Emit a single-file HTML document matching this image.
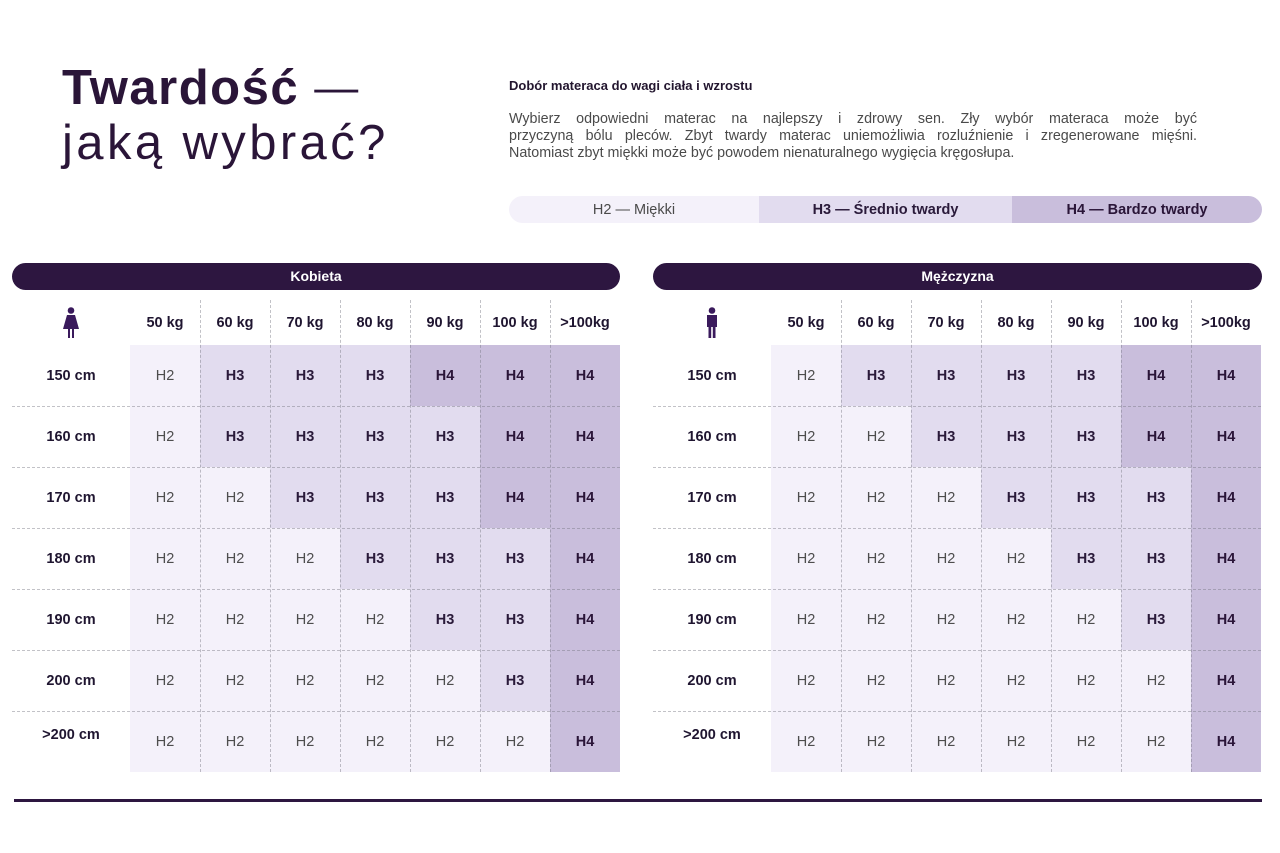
<!DOCTYPE html>
<html><head><meta charset="utf-8">
<style>
*{margin:0;padding:0;box-sizing:border-box}
body{width:1280px;height:853px;background:#fff;position:relative;overflow:hidden;font-family:"Liberation Sans",sans-serif;color:#2a1a3a}
.abs{position:absolute}
.t1{left:62px;top:58px;font-size:49px;font-weight:bold;color:#2a1538;letter-spacing:1.5px;white-space:nowrap;line-height:60px}
.t1 span{font-weight:normal;letter-spacing:0;font-size:44px;position:relative;top:-2px}
.t2{left:62px;top:113px;font-size:49px;color:#2a1538;letter-spacing:3.4px;white-space:nowrap;line-height:60px}
.sub{left:509px;top:78px;font-size:13px;font-weight:bold;color:#22152e;white-space:nowrap}
.para{left:509px;top:111px;width:688px;font-size:14.3px;line-height:17px;color:#4a4a4a}
.para div{text-align:justify;text-align-last:justify;white-space:nowrap}
.legend{left:509px;top:196px;width:753px;height:27px;border-radius:14px;overflow:hidden;display:flex}
.legend div{height:27px;line-height:28px;text-align:center;font-size:14.5px}
.bar{height:27px;border-radius:14px;background:#2d1640;color:#fff;font-weight:bold;font-size:14px;text-align:center;line-height:27px}
.grid{display:grid;grid-template-columns:118px repeat(7,70px);grid-template-rows:45px repeat(7,61px)}
.grid div{display:flex;align-items:center;justify-content:center;font-size:14.5px}
.hd{font-weight:bold;color:#1f1530;padding-top:1px}
.rl{font-weight:bold;color:#1f1530}
.h2{background:#f4f1fa;color:#4d4d4d}
.h3{background:#e2dcef;color:#2a1a3a;font-weight:bold}
.h4{background:#c9bedc;color:#2a1538;font-weight:bold}
.vl{width:0;border-left:1px dashed rgba(120,120,130,0.45)}
.hl{height:0;border-top:1px dashed rgba(120,120,130,0.45)}
</style></head><body>

<div class="abs t1">Twardość <span>—</span></div>
<div class="abs t2">jaką wybrać?</div>

<div class="abs sub">Dobór materaca do wagi ciała i wzrostu</div>
<div class="abs para">
<div>Wybierz odpowiedni materac na najlepszy i zdrowy sen. Zły wybór materaca może być</div>
<div>przyczyną bólu pleców. Zbyt twardy materac uniemożliwia rozluźnienie i zregenerowane mięśni.</div>
<div style="text-align:left;text-align-last:left">Natomiast zbyt miękki może być powodem nienaturalnego wygięcia kręgosłupa.</div>
</div>

<div class="abs legend">
<div style="width:250px;background:#f4f1fa;color:#4a4a4a">H2 — Miękki</div>
<div style="width:253px;background:#e2dcef;color:#2a1a3a;font-weight:bold">H3 — Średnio twardy</div>
<div style="width:250px;background:#c9bedc;color:#2a1538;font-weight:bold">H4 — Bardzo twardy</div>
</div>

<div class="abs bar" style="left:12px;top:263px;width:608px">Kobieta</div>
<div class="abs bar" style="left:653px;top:263px;width:609px">Mężczyzna</div>

<!-- Left table -->
<div class="abs grid" style="left:12px;top:300px">
<div><svg width="18" height="32" viewBox="0 0 18 32"><circle cx="9" cy="3.5" r="3.3" fill="#3a1a5c"/><path d="M5 8 H13 L17 22 H12 V31 H10 V22 H8 V31 H6 V22 H1 Z" fill="#3a1a5c"/></svg></div>
<div class="hd">50 kg</div><div class="hd">60 kg</div><div class="hd">70 kg</div><div class="hd">80 kg</div><div class="hd">90 kg</div><div class="hd">100 kg</div><div class="hd">&gt;100kg</div>
<div class="rl">150 cm</div><div class="h2">H2</div><div class="h3">H3</div><div class="h3">H3</div><div class="h3">H3</div><div class="h4">H4</div><div class="h4">H4</div><div class="h4">H4</div>
<div class="rl">160 cm</div><div class="h2">H2</div><div class="h3">H3</div><div class="h3">H3</div><div class="h3">H3</div><div class="h3">H3</div><div class="h4">H4</div><div class="h4">H4</div>
<div class="rl">170 cm</div><div class="h2">H2</div><div class="h2">H2</div><div class="h3">H3</div><div class="h3">H3</div><div class="h3">H3</div><div class="h4">H4</div><div class="h4">H4</div>
<div class="rl">180 cm</div><div class="h2">H2</div><div class="h2">H2</div><div class="h2">H2</div><div class="h3">H3</div><div class="h3">H3</div><div class="h3">H3</div><div class="h4">H4</div>
<div class="rl">190 cm</div><div class="h2">H2</div><div class="h2">H2</div><div class="h2">H2</div><div class="h2">H2</div><div class="h3">H3</div><div class="h3">H3</div><div class="h4">H4</div>
<div class="rl">200 cm</div><div class="h2">H2</div><div class="h2">H2</div><div class="h2">H2</div><div class="h2">H2</div><div class="h2">H2</div><div class="h3">H3</div><div class="h4">H4</div>
<div class="rl" style="padding-bottom:14px">&gt;200 cm</div><div class="h2">H2</div><div class="h2">H2</div><div class="h2">H2</div><div class="h2">H2</div><div class="h2">H2</div><div class="h2">H2</div><div class="h4">H4</div>
</div>

<!-- Right table -->
<div class="abs grid" style="left:653px;top:300px">
<div><svg width="14" height="32" viewBox="0 0 14 32"><circle cx="7" cy="3.5" r="3.3" fill="#3a1a5c"/><path d="M2 8 H12 V20 H10.5 V31 H7.8 V20 H6.2 V31 H3.5 V20 H2 Z" fill="#3a1a5c"/></svg></div>
<div class="hd">50 kg</div><div class="hd">60 kg</div><div class="hd">70 kg</div><div class="hd">80 kg</div><div class="hd">90 kg</div><div class="hd">100 kg</div><div class="hd">&gt;100kg</div>
<div class="rl">150 cm</div><div class="h2">H2</div><div class="h3">H3</div><div class="h3">H3</div><div class="h3">H3</div><div class="h3">H3</div><div class="h4">H4</div><div class="h4">H4</div>
<div class="rl">160 cm</div><div class="h2">H2</div><div class="h2">H2</div><div class="h3">H3</div><div class="h3">H3</div><div class="h3">H3</div><div class="h4">H4</div><div class="h4">H4</div>
<div class="rl">170 cm</div><div class="h2">H2</div><div class="h2">H2</div><div class="h2">H2</div><div class="h3">H3</div><div class="h3">H3</div><div class="h3">H3</div><div class="h4">H4</div>
<div class="rl">180 cm</div><div class="h2">H2</div><div class="h2">H2</div><div class="h2">H2</div><div class="h2">H2</div><div class="h3">H3</div><div class="h3">H3</div><div class="h4">H4</div>
<div class="rl">190 cm</div><div class="h2">H2</div><div class="h2">H2</div><div class="h2">H2</div><div class="h2">H2</div><div class="h2">H2</div><div class="h3">H3</div><div class="h4">H4</div>
<div class="rl">200 cm</div><div class="h2">H2</div><div class="h2">H2</div><div class="h2">H2</div><div class="h2">H2</div><div class="h2">H2</div><div class="h2">H2</div><div class="h4">H4</div>
<div class="rl" style="padding-bottom:14px">&gt;200 cm</div><div class="h2">H2</div><div class="h2">H2</div><div class="h2">H2</div><div class="h2">H2</div><div class="h2">H2</div><div class="h2">H2</div><div class="h4">H4</div>
</div>

<!-- dashed lines left -->
<div class="abs vl" style="left:200px;top:300px;height:472px"></div>
<div class="abs vl" style="left:270px;top:300px;height:472px"></div>
<div class="abs vl" style="left:340px;top:300px;height:472px"></div>
<div class="abs vl" style="left:410px;top:300px;height:472px"></div>
<div class="abs vl" style="left:480px;top:300px;height:472px"></div>
<div class="abs vl" style="left:550px;top:300px;height:472px"></div>
<div class="abs hl" style="left:12px;top:406px;width:608px"></div>
<div class="abs hl" style="left:12px;top:467px;width:608px"></div>
<div class="abs hl" style="left:12px;top:528px;width:608px"></div>
<div class="abs hl" style="left:12px;top:589px;width:608px"></div>
<div class="abs hl" style="left:12px;top:650px;width:608px"></div>
<div class="abs hl" style="left:12px;top:711px;width:608px"></div>

<!-- dashed lines right -->
<div class="abs vl" style="left:841px;top:300px;height:472px"></div>
<div class="abs vl" style="left:911px;top:300px;height:472px"></div>
<div class="abs vl" style="left:981px;top:300px;height:472px"></div>
<div class="abs vl" style="left:1051px;top:300px;height:472px"></div>
<div class="abs vl" style="left:1121px;top:300px;height:472px"></div>
<div class="abs vl" style="left:1191px;top:300px;height:472px"></div>
<div class="abs hl" style="left:653px;top:406px;width:608px"></div>
<div class="abs hl" style="left:653px;top:467px;width:608px"></div>
<div class="abs hl" style="left:653px;top:528px;width:608px"></div>
<div class="abs hl" style="left:653px;top:589px;width:608px"></div>
<div class="abs hl" style="left:653px;top:650px;width:608px"></div>
<div class="abs hl" style="left:653px;top:711px;width:608px"></div>

<div class="abs" style="left:14px;top:799px;width:1248px;height:3px;background:#2d1640"></div>
</body></html>
